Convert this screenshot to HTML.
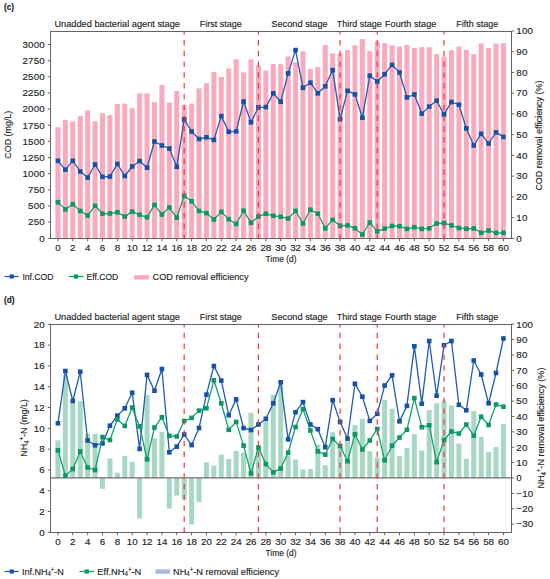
<!DOCTYPE html>
<html><head><meta charset="utf-8"><style>
html,body{margin:0;padding:0;background:#fff;}
body{width:550px;height:579px;overflow:hidden;}
svg{display:block;}
text{stroke:#1e1e1e;stroke-width:0.15px;}
</style></head><body>
<svg width="550" height="579" viewBox="0 0 550 579">
<rect width="550" height="579" fill="#ffffff"/>
<g font-family='"Liberation Sans", sans-serif' fill="#1e1e1e">
<text x="3.9" y="10.1" font-size="8.3" font-weight="bold">(c)</text>
<text x="54.40" y="27.20" text-anchor="start" font-size="9.8" textLength="125.6" lengthAdjust="spacingAndGlyphs">Unadded bacterial agent stage</text>
<text x="199.70" y="27.20" text-anchor="start" font-size="9.8" textLength="42" lengthAdjust="spacingAndGlyphs">First stage</text>
<text x="271.30" y="27.20" text-anchor="start" font-size="9.8" textLength="56.4" lengthAdjust="spacingAndGlyphs">Second stage</text>
<text x="336.70" y="27.20" text-anchor="start" font-size="9.8" textLength="45" lengthAdjust="spacingAndGlyphs">Third stage</text>
<text x="385.00" y="27.20" text-anchor="start" font-size="9.8" textLength="51.3" lengthAdjust="spacingAndGlyphs">Fourth stage</text>
<text x="456.20" y="27.20" text-anchor="start" font-size="9.8" textLength="42" lengthAdjust="spacingAndGlyphs">Fifth stage</text>
<rect x="55.45" y="127.30" width="5.0" height="111.20" fill="#fba9be"/>
<rect x="62.88" y="120.00" width="5.0" height="118.50" fill="#fba9be"/>
<rect x="70.30" y="121.50" width="5.0" height="117.00" fill="#fba9be"/>
<rect x="77.72" y="115.90" width="5.0" height="122.60" fill="#fba9be"/>
<rect x="85.15" y="110.50" width="5.0" height="128.00" fill="#fba9be"/>
<rect x="92.58" y="121.30" width="5.0" height="117.20" fill="#fba9be"/>
<rect x="100.00" y="113.20" width="5.0" height="125.30" fill="#fba9be"/>
<rect x="107.43" y="115.20" width="5.0" height="123.30" fill="#fba9be"/>
<rect x="114.85" y="104.00" width="5.0" height="134.50" fill="#fba9be"/>
<rect x="122.28" y="103.60" width="5.0" height="134.90" fill="#fba9be"/>
<rect x="129.70" y="108.30" width="5.0" height="130.20" fill="#fba9be"/>
<rect x="137.12" y="93.20" width="5.0" height="145.30" fill="#fba9be"/>
<rect x="144.55" y="93.20" width="5.0" height="145.30" fill="#fba9be"/>
<rect x="151.97" y="102.20" width="5.0" height="136.30" fill="#fba9be"/>
<rect x="159.40" y="85.00" width="5.0" height="153.50" fill="#fba9be"/>
<rect x="166.82" y="102.60" width="5.0" height="135.90" fill="#fba9be"/>
<rect x="174.25" y="91.10" width="5.0" height="147.40" fill="#fba9be"/>
<rect x="181.68" y="105.10" width="5.0" height="133.40" fill="#fba9be"/>
<rect x="189.10" y="103.60" width="5.0" height="134.90" fill="#fba9be"/>
<rect x="196.52" y="88.40" width="5.0" height="150.10" fill="#fba9be"/>
<rect x="203.95" y="83.10" width="5.0" height="155.40" fill="#fba9be"/>
<rect x="211.38" y="72.10" width="5.0" height="166.40" fill="#fba9be"/>
<rect x="218.80" y="76.90" width="5.0" height="161.60" fill="#fba9be"/>
<rect x="226.23" y="68.50" width="5.0" height="170.00" fill="#fba9be"/>
<rect x="233.65" y="59.30" width="5.0" height="179.20" fill="#fba9be"/>
<rect x="241.07" y="72.40" width="5.0" height="166.10" fill="#fba9be"/>
<rect x="248.50" y="59.30" width="5.0" height="179.20" fill="#fba9be"/>
<rect x="255.93" y="65.60" width="5.0" height="172.90" fill="#fba9be"/>
<rect x="263.35" y="70.50" width="5.0" height="168.00" fill="#fba9be"/>
<rect x="270.77" y="63.90" width="5.0" height="174.60" fill="#fba9be"/>
<rect x="278.20" y="64.20" width="5.0" height="174.30" fill="#fba9be"/>
<rect x="285.62" y="56.60" width="5.0" height="181.90" fill="#fba9be"/>
<rect x="293.05" y="62.30" width="5.0" height="176.20" fill="#fba9be"/>
<rect x="300.48" y="51.40" width="5.0" height="187.10" fill="#fba9be"/>
<rect x="307.90" y="69.00" width="5.0" height="169.50" fill="#fba9be"/>
<rect x="315.32" y="67.10" width="5.0" height="171.40" fill="#fba9be"/>
<rect x="322.75" y="45.00" width="5.0" height="193.50" fill="#fba9be"/>
<rect x="330.17" y="53.30" width="5.0" height="185.20" fill="#fba9be"/>
<rect x="337.60" y="53.30" width="5.0" height="185.20" fill="#fba9be"/>
<rect x="345.02" y="49.90" width="5.0" height="188.60" fill="#fba9be"/>
<rect x="352.45" y="45.30" width="5.0" height="193.20" fill="#fba9be"/>
<rect x="359.88" y="39.00" width="5.0" height="199.50" fill="#fba9be"/>
<rect x="367.30" y="51.20" width="5.0" height="187.30" fill="#fba9be"/>
<rect x="374.72" y="41.60" width="5.0" height="196.90" fill="#fba9be"/>
<rect x="382.15" y="43.10" width="5.0" height="195.40" fill="#fba9be"/>
<rect x="389.57" y="45.30" width="5.0" height="193.20" fill="#fba9be"/>
<rect x="397.00" y="46.70" width="5.0" height="191.80" fill="#fba9be"/>
<rect x="404.42" y="45.00" width="5.0" height="193.50" fill="#fba9be"/>
<rect x="411.85" y="47.90" width="5.0" height="190.60" fill="#fba9be"/>
<rect x="419.27" y="47.20" width="5.0" height="191.30" fill="#fba9be"/>
<rect x="426.70" y="47.20" width="5.0" height="191.30" fill="#fba9be"/>
<rect x="434.12" y="54.00" width="5.0" height="184.50" fill="#fba9be"/>
<rect x="441.55" y="56.60" width="5.0" height="181.90" fill="#fba9be"/>
<rect x="448.97" y="50.20" width="5.0" height="188.30" fill="#fba9be"/>
<rect x="456.40" y="46.60" width="5.0" height="191.90" fill="#fba9be"/>
<rect x="463.82" y="49.80" width="5.0" height="188.70" fill="#fba9be"/>
<rect x="471.25" y="54.00" width="5.0" height="184.50" fill="#fba9be"/>
<rect x="478.67" y="43.50" width="5.0" height="195.00" fill="#fba9be"/>
<rect x="486.10" y="48.00" width="5.0" height="190.50" fill="#fba9be"/>
<rect x="493.52" y="43.60" width="5.0" height="194.90" fill="#fba9be"/>
<rect x="500.95" y="43.10" width="5.0" height="195.40" fill="#fba9be"/>
<polyline points="57.95,160.80 65.38,169.70 72.80,160.80 80.22,171.50 87.65,177.60 95.08,164.50 102.50,176.80 109.93,176.50 117.35,163.90 124.78,176.00 132.20,166.50 139.62,161.00 147.05,167.70 154.47,141.50 161.90,145.50 169.32,148.50 176.75,166.80 184.18,119.40 191.60,131.50 199.02,139.00 206.45,137.30 213.88,139.90 221.30,116.10 228.73,131.80 236.15,131.40 243.57,101.50 251.00,122.30 258.43,107.30 265.85,107.10 273.27,93.30 280.70,101.80 288.12,73.40 295.55,50.10 302.98,87.80 310.40,82.70 317.82,93.30 325.25,86.30 332.67,70.10 340.10,119.20 347.52,90.80 354.95,94.40 362.38,117.70 369.80,75.70 377.22,81.50 384.65,74.20 392.07,64.90 399.50,72.50 406.92,97.40 414.35,94.50 421.77,113.60 429.20,106.60 436.62,100.70 444.05,114.40 451.47,102.00 458.90,104.70 466.32,128.40 473.75,145.50 481.17,133.80 488.60,143.50 496.02,132.40 503.45,136.90" fill="none" stroke="#1f5cb4" stroke-width="1.3" stroke-linejoin="round"/>
<rect x="55.65" y="158.50" width="4.6" height="4.6" fill="#1650a8"/>
<rect x="63.08" y="167.40" width="4.6" height="4.6" fill="#1650a8"/>
<rect x="70.50" y="158.50" width="4.6" height="4.6" fill="#1650a8"/>
<rect x="77.92" y="169.20" width="4.6" height="4.6" fill="#1650a8"/>
<rect x="85.35" y="175.30" width="4.6" height="4.6" fill="#1650a8"/>
<rect x="92.78" y="162.20" width="4.6" height="4.6" fill="#1650a8"/>
<rect x="100.20" y="174.50" width="4.6" height="4.6" fill="#1650a8"/>
<rect x="107.63" y="174.20" width="4.6" height="4.6" fill="#1650a8"/>
<rect x="115.05" y="161.60" width="4.6" height="4.6" fill="#1650a8"/>
<rect x="122.48" y="173.70" width="4.6" height="4.6" fill="#1650a8"/>
<rect x="129.90" y="164.20" width="4.6" height="4.6" fill="#1650a8"/>
<rect x="137.32" y="158.70" width="4.6" height="4.6" fill="#1650a8"/>
<rect x="144.75" y="165.40" width="4.6" height="4.6" fill="#1650a8"/>
<rect x="152.17" y="139.20" width="4.6" height="4.6" fill="#1650a8"/>
<rect x="159.60" y="143.20" width="4.6" height="4.6" fill="#1650a8"/>
<rect x="167.02" y="146.20" width="4.6" height="4.6" fill="#1650a8"/>
<rect x="174.45" y="164.50" width="4.6" height="4.6" fill="#1650a8"/>
<rect x="181.88" y="117.10" width="4.6" height="4.6" fill="#1650a8"/>
<rect x="189.30" y="129.20" width="4.6" height="4.6" fill="#1650a8"/>
<rect x="196.72" y="136.70" width="4.6" height="4.6" fill="#1650a8"/>
<rect x="204.15" y="135.00" width="4.6" height="4.6" fill="#1650a8"/>
<rect x="211.57" y="137.60" width="4.6" height="4.6" fill="#1650a8"/>
<rect x="219.00" y="113.80" width="4.6" height="4.6" fill="#1650a8"/>
<rect x="226.43" y="129.50" width="4.6" height="4.6" fill="#1650a8"/>
<rect x="233.85" y="129.10" width="4.6" height="4.6" fill="#1650a8"/>
<rect x="241.27" y="99.20" width="4.6" height="4.6" fill="#1650a8"/>
<rect x="248.70" y="120.00" width="4.6" height="4.6" fill="#1650a8"/>
<rect x="256.12" y="105.00" width="4.6" height="4.6" fill="#1650a8"/>
<rect x="263.55" y="104.80" width="4.6" height="4.6" fill="#1650a8"/>
<rect x="270.97" y="91.00" width="4.6" height="4.6" fill="#1650a8"/>
<rect x="278.40" y="99.50" width="4.6" height="4.6" fill="#1650a8"/>
<rect x="285.82" y="71.10" width="4.6" height="4.6" fill="#1650a8"/>
<rect x="293.25" y="47.80" width="4.6" height="4.6" fill="#1650a8"/>
<rect x="300.68" y="85.50" width="4.6" height="4.6" fill="#1650a8"/>
<rect x="308.10" y="80.40" width="4.6" height="4.6" fill="#1650a8"/>
<rect x="315.52" y="91.00" width="4.6" height="4.6" fill="#1650a8"/>
<rect x="322.95" y="84.00" width="4.6" height="4.6" fill="#1650a8"/>
<rect x="330.37" y="67.80" width="4.6" height="4.6" fill="#1650a8"/>
<rect x="337.80" y="116.90" width="4.6" height="4.6" fill="#1650a8"/>
<rect x="345.22" y="88.50" width="4.6" height="4.6" fill="#1650a8"/>
<rect x="352.65" y="92.10" width="4.6" height="4.6" fill="#1650a8"/>
<rect x="360.07" y="115.40" width="4.6" height="4.6" fill="#1650a8"/>
<rect x="367.50" y="73.40" width="4.6" height="4.6" fill="#1650a8"/>
<rect x="374.92" y="79.20" width="4.6" height="4.6" fill="#1650a8"/>
<rect x="382.35" y="71.90" width="4.6" height="4.6" fill="#1650a8"/>
<rect x="389.77" y="62.60" width="4.6" height="4.6" fill="#1650a8"/>
<rect x="397.20" y="70.20" width="4.6" height="4.6" fill="#1650a8"/>
<rect x="404.62" y="95.10" width="4.6" height="4.6" fill="#1650a8"/>
<rect x="412.05" y="92.20" width="4.6" height="4.6" fill="#1650a8"/>
<rect x="419.47" y="111.30" width="4.6" height="4.6" fill="#1650a8"/>
<rect x="426.90" y="104.30" width="4.6" height="4.6" fill="#1650a8"/>
<rect x="434.32" y="98.40" width="4.6" height="4.6" fill="#1650a8"/>
<rect x="441.75" y="112.10" width="4.6" height="4.6" fill="#1650a8"/>
<rect x="449.17" y="99.70" width="4.6" height="4.6" fill="#1650a8"/>
<rect x="456.60" y="102.40" width="4.6" height="4.6" fill="#1650a8"/>
<rect x="464.02" y="126.10" width="4.6" height="4.6" fill="#1650a8"/>
<rect x="471.45" y="143.20" width="4.6" height="4.6" fill="#1650a8"/>
<rect x="478.87" y="131.50" width="4.6" height="4.6" fill="#1650a8"/>
<rect x="486.30" y="141.20" width="4.6" height="4.6" fill="#1650a8"/>
<rect x="493.72" y="130.10" width="4.6" height="4.6" fill="#1650a8"/>
<rect x="501.15" y="134.60" width="4.6" height="4.6" fill="#1650a8"/>
<polyline points="57.95,202.20 65.38,209.40 72.80,204.20 80.22,210.90 87.65,215.50 95.08,205.80 102.50,213.80 109.93,213.40 117.35,212.30 124.78,216.60 132.20,211.60 139.62,214.80 147.05,217.30 154.47,204.90 161.90,214.50 169.32,207.50 176.75,217.70 184.18,195.90 191.60,201.30 199.02,211.00 206.45,213.10 213.88,219.50 221.30,211.90 228.73,219.20 236.15,224.00 243.57,210.70 251.00,222.80 258.43,216.60 265.85,213.70 273.27,215.80 280.70,216.70 288.12,218.50 295.55,210.90 302.98,223.50 310.40,209.70 317.82,213.70 325.25,228.30 332.67,219.90 340.10,225.70 347.52,225.40 354.95,228.20 362.38,234.50 369.80,222.50 377.22,231.30 384.65,228.60 392.07,226.00 399.50,226.20 406.92,228.90 414.35,227.20 421.77,228.90 429.20,228.30 436.62,223.50 444.05,223.10 451.47,225.40 458.90,228.00 466.32,228.80 473.75,228.40 481.17,232.80 488.60,230.60 496.02,232.80 503.45,232.80" fill="none" stroke="#10a26d" stroke-width="1.3" stroke-linejoin="round"/>
<rect x="55.65" y="199.90" width="4.6" height="4.6" fill="#0b9864"/>
<rect x="63.08" y="207.10" width="4.6" height="4.6" fill="#0b9864"/>
<rect x="70.50" y="201.90" width="4.6" height="4.6" fill="#0b9864"/>
<rect x="77.92" y="208.60" width="4.6" height="4.6" fill="#0b9864"/>
<rect x="85.35" y="213.20" width="4.6" height="4.6" fill="#0b9864"/>
<rect x="92.78" y="203.50" width="4.6" height="4.6" fill="#0b9864"/>
<rect x="100.20" y="211.50" width="4.6" height="4.6" fill="#0b9864"/>
<rect x="107.63" y="211.10" width="4.6" height="4.6" fill="#0b9864"/>
<rect x="115.05" y="210.00" width="4.6" height="4.6" fill="#0b9864"/>
<rect x="122.48" y="214.30" width="4.6" height="4.6" fill="#0b9864"/>
<rect x="129.90" y="209.30" width="4.6" height="4.6" fill="#0b9864"/>
<rect x="137.32" y="212.50" width="4.6" height="4.6" fill="#0b9864"/>
<rect x="144.75" y="215.00" width="4.6" height="4.6" fill="#0b9864"/>
<rect x="152.17" y="202.60" width="4.6" height="4.6" fill="#0b9864"/>
<rect x="159.60" y="212.20" width="4.6" height="4.6" fill="#0b9864"/>
<rect x="167.02" y="205.20" width="4.6" height="4.6" fill="#0b9864"/>
<rect x="174.45" y="215.40" width="4.6" height="4.6" fill="#0b9864"/>
<rect x="181.88" y="193.60" width="4.6" height="4.6" fill="#0b9864"/>
<rect x="189.30" y="199.00" width="4.6" height="4.6" fill="#0b9864"/>
<rect x="196.72" y="208.70" width="4.6" height="4.6" fill="#0b9864"/>
<rect x="204.15" y="210.80" width="4.6" height="4.6" fill="#0b9864"/>
<rect x="211.57" y="217.20" width="4.6" height="4.6" fill="#0b9864"/>
<rect x="219.00" y="209.60" width="4.6" height="4.6" fill="#0b9864"/>
<rect x="226.43" y="216.90" width="4.6" height="4.6" fill="#0b9864"/>
<rect x="233.85" y="221.70" width="4.6" height="4.6" fill="#0b9864"/>
<rect x="241.27" y="208.40" width="4.6" height="4.6" fill="#0b9864"/>
<rect x="248.70" y="220.50" width="4.6" height="4.6" fill="#0b9864"/>
<rect x="256.12" y="214.30" width="4.6" height="4.6" fill="#0b9864"/>
<rect x="263.55" y="211.40" width="4.6" height="4.6" fill="#0b9864"/>
<rect x="270.97" y="213.50" width="4.6" height="4.6" fill="#0b9864"/>
<rect x="278.40" y="214.40" width="4.6" height="4.6" fill="#0b9864"/>
<rect x="285.82" y="216.20" width="4.6" height="4.6" fill="#0b9864"/>
<rect x="293.25" y="208.60" width="4.6" height="4.6" fill="#0b9864"/>
<rect x="300.68" y="221.20" width="4.6" height="4.6" fill="#0b9864"/>
<rect x="308.10" y="207.40" width="4.6" height="4.6" fill="#0b9864"/>
<rect x="315.52" y="211.40" width="4.6" height="4.6" fill="#0b9864"/>
<rect x="322.95" y="226.00" width="4.6" height="4.6" fill="#0b9864"/>
<rect x="330.37" y="217.60" width="4.6" height="4.6" fill="#0b9864"/>
<rect x="337.80" y="223.40" width="4.6" height="4.6" fill="#0b9864"/>
<rect x="345.22" y="223.10" width="4.6" height="4.6" fill="#0b9864"/>
<rect x="352.65" y="225.90" width="4.6" height="4.6" fill="#0b9864"/>
<rect x="360.07" y="232.20" width="4.6" height="4.6" fill="#0b9864"/>
<rect x="367.50" y="220.20" width="4.6" height="4.6" fill="#0b9864"/>
<rect x="374.92" y="229.00" width="4.6" height="4.6" fill="#0b9864"/>
<rect x="382.35" y="226.30" width="4.6" height="4.6" fill="#0b9864"/>
<rect x="389.77" y="223.70" width="4.6" height="4.6" fill="#0b9864"/>
<rect x="397.20" y="223.90" width="4.6" height="4.6" fill="#0b9864"/>
<rect x="404.62" y="226.60" width="4.6" height="4.6" fill="#0b9864"/>
<rect x="412.05" y="224.90" width="4.6" height="4.6" fill="#0b9864"/>
<rect x="419.47" y="226.60" width="4.6" height="4.6" fill="#0b9864"/>
<rect x="426.90" y="226.00" width="4.6" height="4.6" fill="#0b9864"/>
<rect x="434.32" y="221.20" width="4.6" height="4.6" fill="#0b9864"/>
<rect x="441.75" y="220.80" width="4.6" height="4.6" fill="#0b9864"/>
<rect x="449.17" y="223.10" width="4.6" height="4.6" fill="#0b9864"/>
<rect x="456.60" y="225.70" width="4.6" height="4.6" fill="#0b9864"/>
<rect x="464.02" y="226.50" width="4.6" height="4.6" fill="#0b9864"/>
<rect x="471.45" y="226.10" width="4.6" height="4.6" fill="#0b9864"/>
<rect x="478.87" y="230.50" width="4.6" height="4.6" fill="#0b9864"/>
<rect x="486.30" y="228.30" width="4.6" height="4.6" fill="#0b9864"/>
<rect x="493.72" y="230.50" width="4.6" height="4.6" fill="#0b9864"/>
<rect x="501.15" y="230.50" width="4.6" height="4.6" fill="#0b9864"/>
<line x1="184.18" y1="238.5" x2="184.18" y2="31.5" stroke="#f2383c" stroke-width="1.2" stroke-dasharray="5.5 5.3" stroke-dashoffset="1.3"/>
<line x1="258.43" y1="238.5" x2="258.43" y2="31.5" stroke="#f2383c" stroke-width="1.2" stroke-dasharray="5.5 5.3" stroke-dashoffset="1.3"/>
<line x1="340.10" y1="238.5" x2="340.10" y2="31.5" stroke="#f2383c" stroke-width="1.2" stroke-dasharray="5.5 5.3" stroke-dashoffset="1.3"/>
<line x1="377.22" y1="238.5" x2="377.22" y2="31.5" stroke="#f2383c" stroke-width="1.2" stroke-dasharray="5.5 5.3" stroke-dashoffset="1.3"/>
<line x1="444.05" y1="238.5" x2="444.05" y2="31.5" stroke="#f2383c" stroke-width="1.2" stroke-dasharray="5.5 5.3" stroke-dashoffset="1.3"/>
<rect x="50.5" y="31.5" width="461" height="207.0" fill="none" stroke="#676161" stroke-width="1"/>
<line x1="47.8" y1="238.30" x2="50.5" y2="238.30" stroke="#676161" stroke-width="1"/>
<text x="45.00" y="241.60" text-anchor="end" font-size="9.8" letter-spacing="0.2">0</text>
<line x1="47.8" y1="222.15" x2="50.5" y2="222.15" stroke="#676161" stroke-width="1"/>
<text x="45.00" y="225.45" text-anchor="end" font-size="9.8" letter-spacing="0.2">250</text>
<line x1="47.8" y1="206.00" x2="50.5" y2="206.00" stroke="#676161" stroke-width="1"/>
<text x="45.00" y="209.30" text-anchor="end" font-size="9.8" letter-spacing="0.2">500</text>
<line x1="47.8" y1="189.85" x2="50.5" y2="189.85" stroke="#676161" stroke-width="1"/>
<text x="45.00" y="193.15" text-anchor="end" font-size="9.8" letter-spacing="0.2">750</text>
<line x1="47.8" y1="173.70" x2="50.5" y2="173.70" stroke="#676161" stroke-width="1"/>
<text x="45.00" y="177.00" text-anchor="end" font-size="9.8" letter-spacing="0.2">1000</text>
<line x1="47.8" y1="157.55" x2="50.5" y2="157.55" stroke="#676161" stroke-width="1"/>
<text x="45.00" y="160.85" text-anchor="end" font-size="9.8" letter-spacing="0.2">1250</text>
<line x1="47.8" y1="141.40" x2="50.5" y2="141.40" stroke="#676161" stroke-width="1"/>
<text x="45.00" y="144.70" text-anchor="end" font-size="9.8" letter-spacing="0.2">1500</text>
<line x1="47.8" y1="125.25" x2="50.5" y2="125.25" stroke="#676161" stroke-width="1"/>
<text x="45.00" y="128.55" text-anchor="end" font-size="9.8" letter-spacing="0.2">1750</text>
<line x1="47.8" y1="109.10" x2="50.5" y2="109.10" stroke="#676161" stroke-width="1"/>
<text x="45.00" y="112.40" text-anchor="end" font-size="9.8" letter-spacing="0.2">2000</text>
<line x1="47.8" y1="92.95" x2="50.5" y2="92.95" stroke="#676161" stroke-width="1"/>
<text x="45.00" y="96.25" text-anchor="end" font-size="9.8" letter-spacing="0.2">2250</text>
<line x1="47.8" y1="76.80" x2="50.5" y2="76.80" stroke="#676161" stroke-width="1"/>
<text x="45.00" y="80.10" text-anchor="end" font-size="9.8" letter-spacing="0.2">2500</text>
<line x1="47.8" y1="60.65" x2="50.5" y2="60.65" stroke="#676161" stroke-width="1"/>
<text x="45.00" y="63.95" text-anchor="end" font-size="9.8" letter-spacing="0.2">2750</text>
<line x1="47.8" y1="44.50" x2="50.5" y2="44.50" stroke="#676161" stroke-width="1"/>
<text x="45.00" y="47.80" text-anchor="end" font-size="9.8" letter-spacing="0.2">3000</text>
<line x1="511.5" y1="238.30" x2="514.2" y2="238.30" stroke="#676161" stroke-width="1"/>
<text x="516.30" y="241.60" text-anchor="start" font-size="9.8" letter-spacing="0.2">0</text>
<line x1="511.5" y1="217.57" x2="514.2" y2="217.57" stroke="#676161" stroke-width="1"/>
<text x="516.30" y="220.87" text-anchor="start" font-size="9.8" letter-spacing="0.2">10</text>
<line x1="511.5" y1="196.84" x2="514.2" y2="196.84" stroke="#676161" stroke-width="1"/>
<text x="516.30" y="200.14" text-anchor="start" font-size="9.8" letter-spacing="0.2">20</text>
<line x1="511.5" y1="176.11" x2="514.2" y2="176.11" stroke="#676161" stroke-width="1"/>
<text x="516.30" y="179.41" text-anchor="start" font-size="9.8" letter-spacing="0.2">30</text>
<line x1="511.5" y1="155.38" x2="514.2" y2="155.38" stroke="#676161" stroke-width="1"/>
<text x="516.30" y="158.68" text-anchor="start" font-size="9.8" letter-spacing="0.2">40</text>
<line x1="511.5" y1="134.65" x2="514.2" y2="134.65" stroke="#676161" stroke-width="1"/>
<text x="516.30" y="137.95" text-anchor="start" font-size="9.8" letter-spacing="0.2">50</text>
<line x1="511.5" y1="113.92" x2="514.2" y2="113.92" stroke="#676161" stroke-width="1"/>
<text x="516.30" y="117.22" text-anchor="start" font-size="9.8" letter-spacing="0.2">60</text>
<line x1="511.5" y1="93.19" x2="514.2" y2="93.19" stroke="#676161" stroke-width="1"/>
<text x="516.30" y="96.49" text-anchor="start" font-size="9.8" letter-spacing="0.2">70</text>
<line x1="511.5" y1="72.46" x2="514.2" y2="72.46" stroke="#676161" stroke-width="1"/>
<text x="516.30" y="75.76" text-anchor="start" font-size="9.8" letter-spacing="0.2">80</text>
<line x1="511.5" y1="51.73" x2="514.2" y2="51.73" stroke="#676161" stroke-width="1"/>
<text x="516.30" y="55.03" text-anchor="start" font-size="9.8" letter-spacing="0.2">90</text>
<line x1="511.5" y1="31.00" x2="514.2" y2="31.00" stroke="#676161" stroke-width="1"/>
<text x="516.30" y="34.30" text-anchor="start" font-size="9.8" letter-spacing="0.2">100</text>
<line x1="57.95" y1="238.5" x2="57.95" y2="241.3" stroke="#676161" stroke-width="1"/>
<text x="57.95" y="251.20" text-anchor="middle" font-size="9.8" letter-spacing="-0.1">0</text>
<line x1="72.80" y1="238.5" x2="72.80" y2="241.3" stroke="#676161" stroke-width="1"/>
<text x="72.80" y="251.20" text-anchor="middle" font-size="9.8" letter-spacing="-0.1">2</text>
<line x1="87.65" y1="238.5" x2="87.65" y2="241.3" stroke="#676161" stroke-width="1"/>
<text x="87.65" y="251.20" text-anchor="middle" font-size="9.8" letter-spacing="-0.1">4</text>
<line x1="102.50" y1="238.5" x2="102.50" y2="241.3" stroke="#676161" stroke-width="1"/>
<text x="102.50" y="251.20" text-anchor="middle" font-size="9.8" letter-spacing="-0.1">6</text>
<line x1="117.35" y1="238.5" x2="117.35" y2="241.3" stroke="#676161" stroke-width="1"/>
<text x="117.35" y="251.20" text-anchor="middle" font-size="9.8" letter-spacing="-0.1">8</text>
<line x1="132.20" y1="238.5" x2="132.20" y2="241.3" stroke="#676161" stroke-width="1"/>
<text x="132.20" y="251.20" text-anchor="middle" font-size="9.8" letter-spacing="-0.1">10</text>
<line x1="147.05" y1="238.5" x2="147.05" y2="241.3" stroke="#676161" stroke-width="1"/>
<text x="147.05" y="251.20" text-anchor="middle" font-size="9.8" letter-spacing="-0.1">12</text>
<line x1="161.90" y1="238.5" x2="161.90" y2="241.3" stroke="#676161" stroke-width="1"/>
<text x="161.90" y="251.20" text-anchor="middle" font-size="9.8" letter-spacing="-0.1">14</text>
<line x1="176.75" y1="238.5" x2="176.75" y2="241.3" stroke="#676161" stroke-width="1"/>
<text x="176.75" y="251.20" text-anchor="middle" font-size="9.8" letter-spacing="-0.1">16</text>
<line x1="191.60" y1="238.5" x2="191.60" y2="241.3" stroke="#676161" stroke-width="1"/>
<text x="191.60" y="251.20" text-anchor="middle" font-size="9.8" letter-spacing="-0.1">18</text>
<line x1="206.45" y1="238.5" x2="206.45" y2="241.3" stroke="#676161" stroke-width="1"/>
<text x="206.45" y="251.20" text-anchor="middle" font-size="9.8" letter-spacing="-0.1">20</text>
<line x1="221.30" y1="238.5" x2="221.30" y2="241.3" stroke="#676161" stroke-width="1"/>
<text x="221.30" y="251.20" text-anchor="middle" font-size="9.8" letter-spacing="-0.1">22</text>
<line x1="236.15" y1="238.5" x2="236.15" y2="241.3" stroke="#676161" stroke-width="1"/>
<text x="236.15" y="251.20" text-anchor="middle" font-size="9.8" letter-spacing="-0.1">24</text>
<line x1="251.00" y1="238.5" x2="251.00" y2="241.3" stroke="#676161" stroke-width="1"/>
<text x="251.00" y="251.20" text-anchor="middle" font-size="9.8" letter-spacing="-0.1">26</text>
<line x1="265.85" y1="238.5" x2="265.85" y2="241.3" stroke="#676161" stroke-width="1"/>
<text x="265.85" y="251.20" text-anchor="middle" font-size="9.8" letter-spacing="-0.1">28</text>
<line x1="280.70" y1="238.5" x2="280.70" y2="241.3" stroke="#676161" stroke-width="1"/>
<text x="280.70" y="251.20" text-anchor="middle" font-size="9.8" letter-spacing="-0.1">30</text>
<line x1="295.55" y1="238.5" x2="295.55" y2="241.3" stroke="#676161" stroke-width="1"/>
<text x="295.55" y="251.20" text-anchor="middle" font-size="9.8" letter-spacing="-0.1">32</text>
<line x1="310.40" y1="238.5" x2="310.40" y2="241.3" stroke="#676161" stroke-width="1"/>
<text x="310.40" y="251.20" text-anchor="middle" font-size="9.8" letter-spacing="-0.1">34</text>
<line x1="325.25" y1="238.5" x2="325.25" y2="241.3" stroke="#676161" stroke-width="1"/>
<text x="325.25" y="251.20" text-anchor="middle" font-size="9.8" letter-spacing="-0.1">36</text>
<line x1="340.10" y1="238.5" x2="340.10" y2="241.3" stroke="#676161" stroke-width="1"/>
<text x="340.10" y="251.20" text-anchor="middle" font-size="9.8" letter-spacing="-0.1">38</text>
<line x1="354.95" y1="238.5" x2="354.95" y2="241.3" stroke="#676161" stroke-width="1"/>
<text x="354.95" y="251.20" text-anchor="middle" font-size="9.8" letter-spacing="-0.1">40</text>
<line x1="369.80" y1="238.5" x2="369.80" y2="241.3" stroke="#676161" stroke-width="1"/>
<text x="369.80" y="251.20" text-anchor="middle" font-size="9.8" letter-spacing="-0.1">42</text>
<line x1="384.65" y1="238.5" x2="384.65" y2="241.3" stroke="#676161" stroke-width="1"/>
<text x="384.65" y="251.20" text-anchor="middle" font-size="9.8" letter-spacing="-0.1">44</text>
<line x1="399.50" y1="238.5" x2="399.50" y2="241.3" stroke="#676161" stroke-width="1"/>
<text x="399.50" y="251.20" text-anchor="middle" font-size="9.8" letter-spacing="-0.1">46</text>
<line x1="414.35" y1="238.5" x2="414.35" y2="241.3" stroke="#676161" stroke-width="1"/>
<text x="414.35" y="251.20" text-anchor="middle" font-size="9.8" letter-spacing="-0.1">48</text>
<line x1="429.20" y1="238.5" x2="429.20" y2="241.3" stroke="#676161" stroke-width="1"/>
<text x="429.20" y="251.20" text-anchor="middle" font-size="9.8" letter-spacing="-0.1">50</text>
<line x1="444.05" y1="238.5" x2="444.05" y2="241.3" stroke="#676161" stroke-width="1"/>
<text x="444.05" y="251.20" text-anchor="middle" font-size="9.8" letter-spacing="-0.1">52</text>
<line x1="458.90" y1="238.5" x2="458.90" y2="241.3" stroke="#676161" stroke-width="1"/>
<text x="458.90" y="251.20" text-anchor="middle" font-size="9.8" letter-spacing="-0.1">54</text>
<line x1="473.75" y1="238.5" x2="473.75" y2="241.3" stroke="#676161" stroke-width="1"/>
<text x="473.75" y="251.20" text-anchor="middle" font-size="9.8" letter-spacing="-0.1">56</text>
<line x1="488.60" y1="238.5" x2="488.60" y2="241.3" stroke="#676161" stroke-width="1"/>
<text x="488.60" y="251.20" text-anchor="middle" font-size="9.8" letter-spacing="-0.1">58</text>
<line x1="503.45" y1="238.5" x2="503.45" y2="241.3" stroke="#676161" stroke-width="1"/>
<text x="503.45" y="251.20" text-anchor="middle" font-size="9.8" letter-spacing="-0.1">60</text>
<text x="281.00" y="262.30" text-anchor="middle" font-size="9.8" textLength="31" lengthAdjust="spacingAndGlyphs">Time (d)</text>
<text transform="translate(10.8,134.7) rotate(-90)" text-anchor="middle" font-size="9.8" textLength="47.9" lengthAdjust="spacingAndGlyphs">COD (mg/L)</text>
<text transform="translate(542.4,135.6) rotate(-90)" text-anchor="middle" font-size="9.8" textLength="110" lengthAdjust="spacingAndGlyphs">COD removal efficiency (%)</text>
<line x1="4.6" y1="276.5" x2="18.6" y2="276.5" stroke="#1f5cb4" stroke-width="1.3"/>
<rect x="9.6" y="274.4" width="4.2" height="4.2" fill="#1650a8"/>
<text x="22.40" y="279.80" text-anchor="start" font-size="9.8" textLength="31.1" lengthAdjust="spacingAndGlyphs">Inf.COD</text>
<line x1="68.7" y1="276.5" x2="83.5" y2="276.5" stroke="#10a26d" stroke-width="1.3"/>
<rect x="73.9" y="274.4" width="4.2" height="4.2" fill="#0b9864"/>
<text x="86.60" y="279.80" text-anchor="start" font-size="9.8" textLength="31.7" lengthAdjust="spacingAndGlyphs">Eff.COD</text>
<rect x="134" y="275.2" width="14.8" height="4.3" fill="#fba9be"/>
<text x="152.60" y="279.80" text-anchor="start" font-size="9.8" textLength="95.9" lengthAdjust="spacingAndGlyphs">COD removal efficiency</text>
<text x="3.9" y="303.0" font-size="8.3" font-weight="bold">(d)</text>
<text x="54.40" y="320.40" text-anchor="start" font-size="9.8" textLength="125.6" lengthAdjust="spacingAndGlyphs">Unadded bacterial agent stage</text>
<text x="199.70" y="320.40" text-anchor="start" font-size="9.8" textLength="42" lengthAdjust="spacingAndGlyphs">First stage</text>
<text x="271.30" y="320.40" text-anchor="start" font-size="9.8" textLength="56.4" lengthAdjust="spacingAndGlyphs">Second stage</text>
<text x="336.70" y="320.40" text-anchor="start" font-size="9.8" textLength="45" lengthAdjust="spacingAndGlyphs">Third stage</text>
<text x="385.00" y="320.40" text-anchor="start" font-size="9.8" textLength="51.3" lengthAdjust="spacingAndGlyphs">Fourth stage</text>
<text x="456.20" y="320.40" text-anchor="start" font-size="9.8" textLength="42" lengthAdjust="spacingAndGlyphs">Fifth stage</text>
<rect x="55.45" y="440.30" width="5.0" height="37.70" fill="#a7d8c4"/>
<rect x="62.88" y="375.00" width="5.0" height="103.00" fill="#a7d8c4"/>
<rect x="70.30" y="402.50" width="5.0" height="75.50" fill="#a7d8c4"/>
<rect x="77.72" y="401.00" width="5.0" height="77.00" fill="#a7d8c4"/>
<rect x="85.15" y="433.70" width="5.0" height="44.30" fill="#a7d8c4"/>
<rect x="92.58" y="433.70" width="5.0" height="44.30" fill="#a7d8c4"/>
<rect x="100.00" y="478.00" width="5.0" height="10.80" fill="#a7d8c4"/>
<rect x="107.43" y="458.40" width="5.0" height="19.60" fill="#a7d8c4"/>
<rect x="114.85" y="472.80" width="5.0" height="5.20" fill="#a7d8c4"/>
<rect x="122.28" y="456.10" width="5.0" height="21.90" fill="#a7d8c4"/>
<rect x="129.70" y="461.80" width="5.0" height="16.20" fill="#a7d8c4"/>
<rect x="137.12" y="478.00" width="5.0" height="40.40" fill="#a7d8c4"/>
<rect x="144.55" y="395.00" width="5.0" height="83.00" fill="#a7d8c4"/>
<rect x="151.97" y="438.40" width="5.0" height="39.60" fill="#a7d8c4"/>
<rect x="159.40" y="432.00" width="5.0" height="46.00" fill="#a7d8c4"/>
<rect x="166.82" y="478.00" width="5.0" height="30.70" fill="#a7d8c4"/>
<rect x="174.25" y="478.00" width="5.0" height="17.60" fill="#a7d8c4"/>
<rect x="181.68" y="478.00" width="5.0" height="21.40" fill="#a7d8c4"/>
<rect x="189.10" y="478.00" width="5.0" height="46.50" fill="#a7d8c4"/>
<rect x="196.52" y="478.00" width="5.0" height="24.30" fill="#a7d8c4"/>
<rect x="203.95" y="462.40" width="5.0" height="15.60" fill="#a7d8c4"/>
<rect x="211.38" y="465.60" width="5.0" height="12.40" fill="#a7d8c4"/>
<rect x="218.80" y="454.60" width="5.0" height="23.40" fill="#a7d8c4"/>
<rect x="226.23" y="459.00" width="5.0" height="19.00" fill="#a7d8c4"/>
<rect x="233.65" y="451.00" width="5.0" height="27.00" fill="#a7d8c4"/>
<rect x="241.07" y="452.60" width="5.0" height="25.40" fill="#a7d8c4"/>
<rect x="248.50" y="412.70" width="5.0" height="65.30" fill="#a7d8c4"/>
<rect x="255.93" y="448.30" width="5.0" height="29.70" fill="#a7d8c4"/>
<rect x="263.35" y="421.30" width="5.0" height="56.70" fill="#a7d8c4"/>
<rect x="270.77" y="394.70" width="5.0" height="83.30" fill="#a7d8c4"/>
<rect x="278.20" y="385.50" width="5.0" height="92.50" fill="#a7d8c4"/>
<rect x="285.62" y="455.70" width="5.0" height="22.30" fill="#a7d8c4"/>
<rect x="293.05" y="459.50" width="5.0" height="18.50" fill="#a7d8c4"/>
<rect x="300.48" y="469.40" width="5.0" height="8.60" fill="#a7d8c4"/>
<rect x="307.90" y="469.00" width="5.0" height="9.00" fill="#a7d8c4"/>
<rect x="315.32" y="444.70" width="5.0" height="33.30" fill="#a7d8c4"/>
<rect x="322.75" y="465.20" width="5.0" height="12.80" fill="#a7d8c4"/>
<rect x="330.17" y="432.20" width="5.0" height="45.80" fill="#a7d8c4"/>
<rect x="337.60" y="444.00" width="5.0" height="34.00" fill="#a7d8c4"/>
<rect x="345.02" y="440.50" width="5.0" height="37.50" fill="#a7d8c4"/>
<rect x="352.45" y="425.10" width="5.0" height="52.90" fill="#a7d8c4"/>
<rect x="359.88" y="418.80" width="5.0" height="59.20" fill="#a7d8c4"/>
<rect x="367.30" y="451.00" width="5.0" height="27.00" fill="#a7d8c4"/>
<rect x="374.72" y="457.60" width="5.0" height="20.40" fill="#a7d8c4"/>
<rect x="382.15" y="399.80" width="5.0" height="78.20" fill="#a7d8c4"/>
<rect x="389.57" y="408.70" width="5.0" height="69.30" fill="#a7d8c4"/>
<rect x="397.00" y="455.80" width="5.0" height="22.20" fill="#a7d8c4"/>
<rect x="404.42" y="448.10" width="5.0" height="29.90" fill="#a7d8c4"/>
<rect x="411.85" y="434.10" width="5.0" height="43.90" fill="#a7d8c4"/>
<rect x="419.27" y="450.50" width="5.0" height="27.50" fill="#a7d8c4"/>
<rect x="426.70" y="410.10" width="5.0" height="67.90" fill="#a7d8c4"/>
<rect x="434.12" y="403.10" width="5.0" height="74.90" fill="#a7d8c4"/>
<rect x="441.55" y="400.40" width="5.0" height="77.60" fill="#a7d8c4"/>
<rect x="448.97" y="405.50" width="5.0" height="72.50" fill="#a7d8c4"/>
<rect x="456.40" y="443.50" width="5.0" height="34.50" fill="#a7d8c4"/>
<rect x="463.82" y="458.80" width="5.0" height="19.20" fill="#a7d8c4"/>
<rect x="471.25" y="411.00" width="5.0" height="67.00" fill="#a7d8c4"/>
<rect x="478.67" y="437.00" width="5.0" height="41.00" fill="#a7d8c4"/>
<rect x="486.10" y="452.00" width="5.0" height="26.00" fill="#a7d8c4"/>
<rect x="493.52" y="447.10" width="5.0" height="30.90" fill="#a7d8c4"/>
<rect x="500.95" y="423.90" width="5.0" height="54.10" fill="#a7d8c4"/>
<line x1="50.5" y1="477.8" x2="511.5" y2="477.8" stroke="#7a6a6a" stroke-width="1.2"/>
<polyline points="57.95,423.30 65.38,371.00 72.80,401.00 80.22,371.70 87.65,440.50 95.08,445.30 102.50,443.40 109.93,425.70 117.35,415.60 124.78,408.30 132.20,392.70 139.62,448.90 147.05,374.90 154.47,390.70 161.90,369.00 169.32,452.30 176.75,446.60 184.18,434.50 191.60,445.10 199.02,428.00 206.45,394.60 213.88,366.00 221.30,380.60 228.73,415.20 236.15,399.40 243.57,428.10 251.00,430.00 258.43,424.50 265.85,418.80 273.27,403.30 280.70,382.30 288.12,439.40 295.55,412.20 302.98,402.10 310.40,424.50 317.82,429.20 325.25,447.20 332.67,400.20 340.10,421.90 347.52,438.60 354.95,383.80 362.38,396.70 369.80,420.90 377.22,413.80 384.65,385.50 392.07,375.30 399.50,421.30 406.92,405.90 414.35,346.30 421.77,403.70 429.20,341.00 436.62,395.70 444.05,345.20 451.47,341.00 458.90,404.80 466.32,410.30 473.75,360.50 481.17,374.50 488.60,403.30 496.02,373.00 503.45,338.50" fill="none" stroke="#1f5cb4" stroke-width="1.3" stroke-linejoin="round"/>
<rect x="55.65" y="421.00" width="4.6" height="4.6" fill="#1650a8"/>
<rect x="63.08" y="368.70" width="4.6" height="4.6" fill="#1650a8"/>
<rect x="70.50" y="398.70" width="4.6" height="4.6" fill="#1650a8"/>
<rect x="77.92" y="369.40" width="4.6" height="4.6" fill="#1650a8"/>
<rect x="85.35" y="438.20" width="4.6" height="4.6" fill="#1650a8"/>
<rect x="92.78" y="443.00" width="4.6" height="4.6" fill="#1650a8"/>
<rect x="100.20" y="441.10" width="4.6" height="4.6" fill="#1650a8"/>
<rect x="107.63" y="423.40" width="4.6" height="4.6" fill="#1650a8"/>
<rect x="115.05" y="413.30" width="4.6" height="4.6" fill="#1650a8"/>
<rect x="122.48" y="406.00" width="4.6" height="4.6" fill="#1650a8"/>
<rect x="129.90" y="390.40" width="4.6" height="4.6" fill="#1650a8"/>
<rect x="137.32" y="446.60" width="4.6" height="4.6" fill="#1650a8"/>
<rect x="144.75" y="372.60" width="4.6" height="4.6" fill="#1650a8"/>
<rect x="152.17" y="388.40" width="4.6" height="4.6" fill="#1650a8"/>
<rect x="159.60" y="366.70" width="4.6" height="4.6" fill="#1650a8"/>
<rect x="167.02" y="450.00" width="4.6" height="4.6" fill="#1650a8"/>
<rect x="174.45" y="444.30" width="4.6" height="4.6" fill="#1650a8"/>
<rect x="181.88" y="432.20" width="4.6" height="4.6" fill="#1650a8"/>
<rect x="189.30" y="442.80" width="4.6" height="4.6" fill="#1650a8"/>
<rect x="196.72" y="425.70" width="4.6" height="4.6" fill="#1650a8"/>
<rect x="204.15" y="392.30" width="4.6" height="4.6" fill="#1650a8"/>
<rect x="211.57" y="363.70" width="4.6" height="4.6" fill="#1650a8"/>
<rect x="219.00" y="378.30" width="4.6" height="4.6" fill="#1650a8"/>
<rect x="226.43" y="412.90" width="4.6" height="4.6" fill="#1650a8"/>
<rect x="233.85" y="397.10" width="4.6" height="4.6" fill="#1650a8"/>
<rect x="241.27" y="425.80" width="4.6" height="4.6" fill="#1650a8"/>
<rect x="248.70" y="427.70" width="4.6" height="4.6" fill="#1650a8"/>
<rect x="256.12" y="422.20" width="4.6" height="4.6" fill="#1650a8"/>
<rect x="263.55" y="416.50" width="4.6" height="4.6" fill="#1650a8"/>
<rect x="270.97" y="401.00" width="4.6" height="4.6" fill="#1650a8"/>
<rect x="278.40" y="380.00" width="4.6" height="4.6" fill="#1650a8"/>
<rect x="285.82" y="437.10" width="4.6" height="4.6" fill="#1650a8"/>
<rect x="293.25" y="409.90" width="4.6" height="4.6" fill="#1650a8"/>
<rect x="300.68" y="399.80" width="4.6" height="4.6" fill="#1650a8"/>
<rect x="308.10" y="422.20" width="4.6" height="4.6" fill="#1650a8"/>
<rect x="315.52" y="426.90" width="4.6" height="4.6" fill="#1650a8"/>
<rect x="322.95" y="444.90" width="4.6" height="4.6" fill="#1650a8"/>
<rect x="330.37" y="397.90" width="4.6" height="4.6" fill="#1650a8"/>
<rect x="337.80" y="419.60" width="4.6" height="4.6" fill="#1650a8"/>
<rect x="345.22" y="436.30" width="4.6" height="4.6" fill="#1650a8"/>
<rect x="352.65" y="381.50" width="4.6" height="4.6" fill="#1650a8"/>
<rect x="360.07" y="394.40" width="4.6" height="4.6" fill="#1650a8"/>
<rect x="367.50" y="418.60" width="4.6" height="4.6" fill="#1650a8"/>
<rect x="374.92" y="411.50" width="4.6" height="4.6" fill="#1650a8"/>
<rect x="382.35" y="383.20" width="4.6" height="4.6" fill="#1650a8"/>
<rect x="389.77" y="373.00" width="4.6" height="4.6" fill="#1650a8"/>
<rect x="397.20" y="419.00" width="4.6" height="4.6" fill="#1650a8"/>
<rect x="404.62" y="403.60" width="4.6" height="4.6" fill="#1650a8"/>
<rect x="412.05" y="344.00" width="4.6" height="4.6" fill="#1650a8"/>
<rect x="419.47" y="401.40" width="4.6" height="4.6" fill="#1650a8"/>
<rect x="426.90" y="338.70" width="4.6" height="4.6" fill="#1650a8"/>
<rect x="434.32" y="393.40" width="4.6" height="4.6" fill="#1650a8"/>
<rect x="441.75" y="342.90" width="4.6" height="4.6" fill="#1650a8"/>
<rect x="449.17" y="338.70" width="4.6" height="4.6" fill="#1650a8"/>
<rect x="456.60" y="402.50" width="4.6" height="4.6" fill="#1650a8"/>
<rect x="464.02" y="408.00" width="4.6" height="4.6" fill="#1650a8"/>
<rect x="471.45" y="358.20" width="4.6" height="4.6" fill="#1650a8"/>
<rect x="478.87" y="372.20" width="4.6" height="4.6" fill="#1650a8"/>
<rect x="486.30" y="401.00" width="4.6" height="4.6" fill="#1650a8"/>
<rect x="493.72" y="370.70" width="4.6" height="4.6" fill="#1650a8"/>
<rect x="501.15" y="336.20" width="4.6" height="4.6" fill="#1650a8"/>
<polyline points="57.95,450.40 65.38,475.70 72.80,469.00 80.22,451.40 87.65,467.50 95.08,470.00 102.50,437.10 109.93,440.00 117.35,419.40 124.78,425.90 132.20,407.50 139.62,426.40 147.05,459.30 154.47,427.50 161.90,417.30 169.32,435.80 176.75,436.50 184.18,421.00 191.60,417.90 199.02,410.60 206.45,408.30 213.88,380.30 221.30,403.30 228.73,429.80 236.15,421.90 243.57,445.60 251.00,473.50 258.43,447.50 265.85,464.00 273.27,472.40 280.70,468.50 288.12,452.70 295.55,427.00 302.98,409.10 310.40,430.50 317.82,451.40 325.25,454.60 332.67,439.00 340.10,446.00 347.52,461.20 354.95,434.30 362.38,449.50 369.80,440.50 377.22,428.90 384.65,460.30 392.07,445.70 399.50,437.50 406.92,429.80 414.35,398.10 421.77,427.20 429.20,425.30 436.62,462.10 444.05,440.00 451.47,431.50 458.90,433.50 466.32,424.60 473.75,435.70 481.17,416.80 488.60,425.00 496.02,404.50 503.45,406.70" fill="none" stroke="#10a26d" stroke-width="1.3" stroke-linejoin="round"/>
<rect x="55.65" y="448.10" width="4.6" height="4.6" fill="#0b9864"/>
<rect x="63.08" y="473.40" width="4.6" height="4.6" fill="#0b9864"/>
<rect x="70.50" y="466.70" width="4.6" height="4.6" fill="#0b9864"/>
<rect x="77.92" y="449.10" width="4.6" height="4.6" fill="#0b9864"/>
<rect x="85.35" y="465.20" width="4.6" height="4.6" fill="#0b9864"/>
<rect x="92.78" y="467.70" width="4.6" height="4.6" fill="#0b9864"/>
<rect x="100.20" y="434.80" width="4.6" height="4.6" fill="#0b9864"/>
<rect x="107.63" y="437.70" width="4.6" height="4.6" fill="#0b9864"/>
<rect x="115.05" y="417.10" width="4.6" height="4.6" fill="#0b9864"/>
<rect x="122.48" y="423.60" width="4.6" height="4.6" fill="#0b9864"/>
<rect x="129.90" y="405.20" width="4.6" height="4.6" fill="#0b9864"/>
<rect x="137.32" y="424.10" width="4.6" height="4.6" fill="#0b9864"/>
<rect x="144.75" y="457.00" width="4.6" height="4.6" fill="#0b9864"/>
<rect x="152.17" y="425.20" width="4.6" height="4.6" fill="#0b9864"/>
<rect x="159.60" y="415.00" width="4.6" height="4.6" fill="#0b9864"/>
<rect x="167.02" y="433.50" width="4.6" height="4.6" fill="#0b9864"/>
<rect x="174.45" y="434.20" width="4.6" height="4.6" fill="#0b9864"/>
<rect x="181.88" y="418.70" width="4.6" height="4.6" fill="#0b9864"/>
<rect x="189.30" y="415.60" width="4.6" height="4.6" fill="#0b9864"/>
<rect x="196.72" y="408.30" width="4.6" height="4.6" fill="#0b9864"/>
<rect x="204.15" y="406.00" width="4.6" height="4.6" fill="#0b9864"/>
<rect x="211.57" y="378.00" width="4.6" height="4.6" fill="#0b9864"/>
<rect x="219.00" y="401.00" width="4.6" height="4.6" fill="#0b9864"/>
<rect x="226.43" y="427.50" width="4.6" height="4.6" fill="#0b9864"/>
<rect x="233.85" y="419.60" width="4.6" height="4.6" fill="#0b9864"/>
<rect x="241.27" y="443.30" width="4.6" height="4.6" fill="#0b9864"/>
<rect x="248.70" y="471.20" width="4.6" height="4.6" fill="#0b9864"/>
<rect x="256.12" y="445.20" width="4.6" height="4.6" fill="#0b9864"/>
<rect x="263.55" y="461.70" width="4.6" height="4.6" fill="#0b9864"/>
<rect x="270.97" y="470.10" width="4.6" height="4.6" fill="#0b9864"/>
<rect x="278.40" y="466.20" width="4.6" height="4.6" fill="#0b9864"/>
<rect x="285.82" y="450.40" width="4.6" height="4.6" fill="#0b9864"/>
<rect x="293.25" y="424.70" width="4.6" height="4.6" fill="#0b9864"/>
<rect x="300.68" y="406.80" width="4.6" height="4.6" fill="#0b9864"/>
<rect x="308.10" y="428.20" width="4.6" height="4.6" fill="#0b9864"/>
<rect x="315.52" y="449.10" width="4.6" height="4.6" fill="#0b9864"/>
<rect x="322.95" y="452.30" width="4.6" height="4.6" fill="#0b9864"/>
<rect x="330.37" y="436.70" width="4.6" height="4.6" fill="#0b9864"/>
<rect x="337.80" y="443.70" width="4.6" height="4.6" fill="#0b9864"/>
<rect x="345.22" y="458.90" width="4.6" height="4.6" fill="#0b9864"/>
<rect x="352.65" y="432.00" width="4.6" height="4.6" fill="#0b9864"/>
<rect x="360.07" y="447.20" width="4.6" height="4.6" fill="#0b9864"/>
<rect x="367.50" y="438.20" width="4.6" height="4.6" fill="#0b9864"/>
<rect x="374.92" y="426.60" width="4.6" height="4.6" fill="#0b9864"/>
<rect x="382.35" y="458.00" width="4.6" height="4.6" fill="#0b9864"/>
<rect x="389.77" y="443.40" width="4.6" height="4.6" fill="#0b9864"/>
<rect x="397.20" y="435.20" width="4.6" height="4.6" fill="#0b9864"/>
<rect x="404.62" y="427.50" width="4.6" height="4.6" fill="#0b9864"/>
<rect x="412.05" y="395.80" width="4.6" height="4.6" fill="#0b9864"/>
<rect x="419.47" y="424.90" width="4.6" height="4.6" fill="#0b9864"/>
<rect x="426.90" y="423.00" width="4.6" height="4.6" fill="#0b9864"/>
<rect x="434.32" y="459.80" width="4.6" height="4.6" fill="#0b9864"/>
<rect x="441.75" y="437.70" width="4.6" height="4.6" fill="#0b9864"/>
<rect x="449.17" y="429.20" width="4.6" height="4.6" fill="#0b9864"/>
<rect x="456.60" y="431.20" width="4.6" height="4.6" fill="#0b9864"/>
<rect x="464.02" y="422.30" width="4.6" height="4.6" fill="#0b9864"/>
<rect x="471.45" y="433.40" width="4.6" height="4.6" fill="#0b9864"/>
<rect x="478.87" y="414.50" width="4.6" height="4.6" fill="#0b9864"/>
<rect x="486.30" y="422.70" width="4.6" height="4.6" fill="#0b9864"/>
<rect x="493.72" y="402.20" width="4.6" height="4.6" fill="#0b9864"/>
<rect x="501.15" y="404.40" width="4.6" height="4.6" fill="#0b9864"/>
<line x1="184.18" y1="532.5" x2="184.18" y2="324.5" stroke="#f2383c" stroke-width="1.2" stroke-dasharray="5.5 5.3" stroke-dashoffset="0.2"/>
<line x1="258.43" y1="532.5" x2="258.43" y2="324.5" stroke="#f2383c" stroke-width="1.2" stroke-dasharray="5.5 5.3" stroke-dashoffset="0.2"/>
<line x1="340.10" y1="532.5" x2="340.10" y2="324.5" stroke="#f2383c" stroke-width="1.2" stroke-dasharray="5.5 5.3" stroke-dashoffset="0.2"/>
<line x1="377.22" y1="532.5" x2="377.22" y2="324.5" stroke="#f2383c" stroke-width="1.2" stroke-dasharray="5.5 5.3" stroke-dashoffset="0.2"/>
<line x1="444.05" y1="532.5" x2="444.05" y2="324.5" stroke="#f2383c" stroke-width="1.2" stroke-dasharray="5.5 5.3" stroke-dashoffset="0.2"/>
<rect x="50.5" y="324.5" width="461" height="208.0" fill="none" stroke="#676161" stroke-width="1"/>
<line x1="47.8" y1="532.30" x2="50.5" y2="532.30" stroke="#676161" stroke-width="1"/>
<text x="45.00" y="535.60" text-anchor="end" font-size="9.8" letter-spacing="0.2">0</text>
<line x1="47.8" y1="511.50" x2="50.5" y2="511.50" stroke="#676161" stroke-width="1"/>
<text x="45.00" y="514.80" text-anchor="end" font-size="9.8" letter-spacing="0.2">2</text>
<line x1="47.8" y1="490.70" x2="50.5" y2="490.70" stroke="#676161" stroke-width="1"/>
<text x="45.00" y="494.00" text-anchor="end" font-size="9.8" letter-spacing="0.2">4</text>
<line x1="47.8" y1="469.90" x2="50.5" y2="469.90" stroke="#676161" stroke-width="1"/>
<text x="45.00" y="473.20" text-anchor="end" font-size="9.8" letter-spacing="0.2">6</text>
<line x1="47.8" y1="449.10" x2="50.5" y2="449.10" stroke="#676161" stroke-width="1"/>
<text x="45.00" y="452.40" text-anchor="end" font-size="9.8" letter-spacing="0.2">8</text>
<line x1="47.8" y1="428.30" x2="50.5" y2="428.30" stroke="#676161" stroke-width="1"/>
<text x="45.00" y="431.60" text-anchor="end" font-size="9.8" letter-spacing="0.2">10</text>
<line x1="47.8" y1="407.50" x2="50.5" y2="407.50" stroke="#676161" stroke-width="1"/>
<text x="45.00" y="410.80" text-anchor="end" font-size="9.8" letter-spacing="0.2">12</text>
<line x1="47.8" y1="386.70" x2="50.5" y2="386.70" stroke="#676161" stroke-width="1"/>
<text x="45.00" y="390.00" text-anchor="end" font-size="9.8" letter-spacing="0.2">14</text>
<line x1="47.8" y1="365.90" x2="50.5" y2="365.90" stroke="#676161" stroke-width="1"/>
<text x="45.00" y="369.20" text-anchor="end" font-size="9.8" letter-spacing="0.2">16</text>
<line x1="47.8" y1="345.10" x2="50.5" y2="345.10" stroke="#676161" stroke-width="1"/>
<text x="45.00" y="348.40" text-anchor="end" font-size="9.8" letter-spacing="0.2">18</text>
<line x1="47.8" y1="324.30" x2="50.5" y2="324.30" stroke="#676161" stroke-width="1"/>
<text x="45.00" y="327.60" text-anchor="end" font-size="9.8" letter-spacing="0.2">20</text>
<line x1="511.5" y1="524.14" x2="514.2" y2="524.14" stroke="#676161" stroke-width="1"/>
<text x="516.30" y="527.44" text-anchor="start" font-size="9.8" letter-spacing="0.2">−30</text>
<line x1="511.5" y1="508.76" x2="514.2" y2="508.76" stroke="#676161" stroke-width="1"/>
<text x="516.30" y="512.06" text-anchor="start" font-size="9.8" letter-spacing="0.2">−20</text>
<line x1="511.5" y1="493.38" x2="514.2" y2="493.38" stroke="#676161" stroke-width="1"/>
<text x="516.30" y="496.68" text-anchor="start" font-size="9.8" letter-spacing="0.2">−10</text>
<line x1="511.5" y1="478.00" x2="514.2" y2="478.00" stroke="#676161" stroke-width="1"/>
<text x="516.30" y="481.30" text-anchor="start" font-size="9.8" letter-spacing="0.2">0</text>
<line x1="511.5" y1="462.62" x2="514.2" y2="462.62" stroke="#676161" stroke-width="1"/>
<text x="516.30" y="465.92" text-anchor="start" font-size="9.8" letter-spacing="0.2">10</text>
<line x1="511.5" y1="447.24" x2="514.2" y2="447.24" stroke="#676161" stroke-width="1"/>
<text x="516.30" y="450.54" text-anchor="start" font-size="9.8" letter-spacing="0.2">20</text>
<line x1="511.5" y1="431.86" x2="514.2" y2="431.86" stroke="#676161" stroke-width="1"/>
<text x="516.30" y="435.16" text-anchor="start" font-size="9.8" letter-spacing="0.2">30</text>
<line x1="511.5" y1="416.48" x2="514.2" y2="416.48" stroke="#676161" stroke-width="1"/>
<text x="516.30" y="419.78" text-anchor="start" font-size="9.8" letter-spacing="0.2">40</text>
<line x1="511.5" y1="401.10" x2="514.2" y2="401.10" stroke="#676161" stroke-width="1"/>
<text x="516.30" y="404.40" text-anchor="start" font-size="9.8" letter-spacing="0.2">50</text>
<line x1="511.5" y1="385.72" x2="514.2" y2="385.72" stroke="#676161" stroke-width="1"/>
<text x="516.30" y="389.02" text-anchor="start" font-size="9.8" letter-spacing="0.2">60</text>
<line x1="511.5" y1="370.34" x2="514.2" y2="370.34" stroke="#676161" stroke-width="1"/>
<text x="516.30" y="373.64" text-anchor="start" font-size="9.8" letter-spacing="0.2">70</text>
<line x1="511.5" y1="354.96" x2="514.2" y2="354.96" stroke="#676161" stroke-width="1"/>
<text x="516.30" y="358.26" text-anchor="start" font-size="9.8" letter-spacing="0.2">80</text>
<line x1="511.5" y1="339.58" x2="514.2" y2="339.58" stroke="#676161" stroke-width="1"/>
<text x="516.30" y="342.88" text-anchor="start" font-size="9.8" letter-spacing="0.2">90</text>
<line x1="511.5" y1="324.20" x2="514.2" y2="324.20" stroke="#676161" stroke-width="1"/>
<text x="516.30" y="327.50" text-anchor="start" font-size="9.8" letter-spacing="0.2">100</text>
<line x1="57.95" y1="532.5" x2="57.95" y2="535.3" stroke="#676161" stroke-width="1"/>
<text x="57.95" y="545.20" text-anchor="middle" font-size="9.8" letter-spacing="-0.1">0</text>
<line x1="72.80" y1="532.5" x2="72.80" y2="535.3" stroke="#676161" stroke-width="1"/>
<text x="72.80" y="545.20" text-anchor="middle" font-size="9.8" letter-spacing="-0.1">2</text>
<line x1="87.65" y1="532.5" x2="87.65" y2="535.3" stroke="#676161" stroke-width="1"/>
<text x="87.65" y="545.20" text-anchor="middle" font-size="9.8" letter-spacing="-0.1">4</text>
<line x1="102.50" y1="532.5" x2="102.50" y2="535.3" stroke="#676161" stroke-width="1"/>
<text x="102.50" y="545.20" text-anchor="middle" font-size="9.8" letter-spacing="-0.1">6</text>
<line x1="117.35" y1="532.5" x2="117.35" y2="535.3" stroke="#676161" stroke-width="1"/>
<text x="117.35" y="545.20" text-anchor="middle" font-size="9.8" letter-spacing="-0.1">8</text>
<line x1="132.20" y1="532.5" x2="132.20" y2="535.3" stroke="#676161" stroke-width="1"/>
<text x="132.20" y="545.20" text-anchor="middle" font-size="9.8" letter-spacing="-0.1">10</text>
<line x1="147.05" y1="532.5" x2="147.05" y2="535.3" stroke="#676161" stroke-width="1"/>
<text x="147.05" y="545.20" text-anchor="middle" font-size="9.8" letter-spacing="-0.1">12</text>
<line x1="161.90" y1="532.5" x2="161.90" y2="535.3" stroke="#676161" stroke-width="1"/>
<text x="161.90" y="545.20" text-anchor="middle" font-size="9.8" letter-spacing="-0.1">14</text>
<line x1="176.75" y1="532.5" x2="176.75" y2="535.3" stroke="#676161" stroke-width="1"/>
<text x="176.75" y="545.20" text-anchor="middle" font-size="9.8" letter-spacing="-0.1">16</text>
<line x1="191.60" y1="532.5" x2="191.60" y2="535.3" stroke="#676161" stroke-width="1"/>
<text x="191.60" y="545.20" text-anchor="middle" font-size="9.8" letter-spacing="-0.1">18</text>
<line x1="206.45" y1="532.5" x2="206.45" y2="535.3" stroke="#676161" stroke-width="1"/>
<text x="206.45" y="545.20" text-anchor="middle" font-size="9.8" letter-spacing="-0.1">20</text>
<line x1="221.30" y1="532.5" x2="221.30" y2="535.3" stroke="#676161" stroke-width="1"/>
<text x="221.30" y="545.20" text-anchor="middle" font-size="9.8" letter-spacing="-0.1">22</text>
<line x1="236.15" y1="532.5" x2="236.15" y2="535.3" stroke="#676161" stroke-width="1"/>
<text x="236.15" y="545.20" text-anchor="middle" font-size="9.8" letter-spacing="-0.1">24</text>
<line x1="251.00" y1="532.5" x2="251.00" y2="535.3" stroke="#676161" stroke-width="1"/>
<text x="251.00" y="545.20" text-anchor="middle" font-size="9.8" letter-spacing="-0.1">26</text>
<line x1="265.85" y1="532.5" x2="265.85" y2="535.3" stroke="#676161" stroke-width="1"/>
<text x="265.85" y="545.20" text-anchor="middle" font-size="9.8" letter-spacing="-0.1">28</text>
<line x1="280.70" y1="532.5" x2="280.70" y2="535.3" stroke="#676161" stroke-width="1"/>
<text x="280.70" y="545.20" text-anchor="middle" font-size="9.8" letter-spacing="-0.1">30</text>
<line x1="295.55" y1="532.5" x2="295.55" y2="535.3" stroke="#676161" stroke-width="1"/>
<text x="295.55" y="545.20" text-anchor="middle" font-size="9.8" letter-spacing="-0.1">32</text>
<line x1="310.40" y1="532.5" x2="310.40" y2="535.3" stroke="#676161" stroke-width="1"/>
<text x="310.40" y="545.20" text-anchor="middle" font-size="9.8" letter-spacing="-0.1">34</text>
<line x1="325.25" y1="532.5" x2="325.25" y2="535.3" stroke="#676161" stroke-width="1"/>
<text x="325.25" y="545.20" text-anchor="middle" font-size="9.8" letter-spacing="-0.1">36</text>
<line x1="340.10" y1="532.5" x2="340.10" y2="535.3" stroke="#676161" stroke-width="1"/>
<text x="340.10" y="545.20" text-anchor="middle" font-size="9.8" letter-spacing="-0.1">38</text>
<line x1="354.95" y1="532.5" x2="354.95" y2="535.3" stroke="#676161" stroke-width="1"/>
<text x="354.95" y="545.20" text-anchor="middle" font-size="9.8" letter-spacing="-0.1">40</text>
<line x1="369.80" y1="532.5" x2="369.80" y2="535.3" stroke="#676161" stroke-width="1"/>
<text x="369.80" y="545.20" text-anchor="middle" font-size="9.8" letter-spacing="-0.1">42</text>
<line x1="384.65" y1="532.5" x2="384.65" y2="535.3" stroke="#676161" stroke-width="1"/>
<text x="384.65" y="545.20" text-anchor="middle" font-size="9.8" letter-spacing="-0.1">44</text>
<line x1="399.50" y1="532.5" x2="399.50" y2="535.3" stroke="#676161" stroke-width="1"/>
<text x="399.50" y="545.20" text-anchor="middle" font-size="9.8" letter-spacing="-0.1">46</text>
<line x1="414.35" y1="532.5" x2="414.35" y2="535.3" stroke="#676161" stroke-width="1"/>
<text x="414.35" y="545.20" text-anchor="middle" font-size="9.8" letter-spacing="-0.1">48</text>
<line x1="429.20" y1="532.5" x2="429.20" y2="535.3" stroke="#676161" stroke-width="1"/>
<text x="429.20" y="545.20" text-anchor="middle" font-size="9.8" letter-spacing="-0.1">50</text>
<line x1="444.05" y1="532.5" x2="444.05" y2="535.3" stroke="#676161" stroke-width="1"/>
<text x="444.05" y="545.20" text-anchor="middle" font-size="9.8" letter-spacing="-0.1">52</text>
<line x1="458.90" y1="532.5" x2="458.90" y2="535.3" stroke="#676161" stroke-width="1"/>
<text x="458.90" y="545.20" text-anchor="middle" font-size="9.8" letter-spacing="-0.1">54</text>
<line x1="473.75" y1="532.5" x2="473.75" y2="535.3" stroke="#676161" stroke-width="1"/>
<text x="473.75" y="545.20" text-anchor="middle" font-size="9.8" letter-spacing="-0.1">56</text>
<line x1="488.60" y1="532.5" x2="488.60" y2="535.3" stroke="#676161" stroke-width="1"/>
<text x="488.60" y="545.20" text-anchor="middle" font-size="9.8" letter-spacing="-0.1">58</text>
<line x1="503.45" y1="532.5" x2="503.45" y2="535.3" stroke="#676161" stroke-width="1"/>
<text x="503.45" y="545.20" text-anchor="middle" font-size="9.8" letter-spacing="-0.1">60</text>
<text x="281.00" y="556.00" text-anchor="middle" font-size="9.8" textLength="31" lengthAdjust="spacingAndGlyphs">Time (d)</text>
<text transform="translate(27.4,427.9) rotate(-90)" text-anchor="middle" font-size="9.8" textLength="57.5" lengthAdjust="spacingAndGlyphs">NH<tspan font-size="6.5" dy="1.5">4</tspan><tspan font-size="6.5" dy="-4.5">+</tspan><tspan dy="3">-N</tspan> (mg/L)</text>
<text transform="translate(544.0,428.1) rotate(-90)" text-anchor="middle" font-size="9.8" textLength="121" lengthAdjust="spacingAndGlyphs">NH<tspan font-size="6.5" dy="1.5">4</tspan><tspan font-size="6.5" dy="-4.5">+</tspan><tspan dy="3">-N</tspan> removal efficiency (%)</text>
<line x1="4.6" y1="571.5" x2="18.6" y2="571.5" stroke="#1f5cb4" stroke-width="1.3"/>
<rect x="9.6" y="569.4" width="4.2" height="4.2" fill="#1650a8"/>
<text x="21.90" y="574.80" text-anchor="start" font-size="9.8" textLength="42" lengthAdjust="spacingAndGlyphs">Inf.NH<tspan font-size="6.5" dy="1.5">4</tspan><tspan font-size="6.5" dy="-4.5">+</tspan><tspan dy="3">-N</tspan></text>
<line x1="79.4" y1="571.5" x2="94.2" y2="571.5" stroke="#10a26d" stroke-width="1.3"/>
<rect x="84.7" y="569.4" width="4.2" height="4.2" fill="#0b9864"/>
<text x="97.30" y="574.80" text-anchor="start" font-size="9.8" textLength="44" lengthAdjust="spacingAndGlyphs">Eff.NH<tspan font-size="6.5" dy="1.5">4</tspan><tspan font-size="6.5" dy="-4.5">+</tspan><tspan dy="3">-N</tspan></text>
<rect x="155.5" y="569.4" width="14.5" height="4.3" fill="#aab8dc"/>
<text x="173.00" y="574.80" text-anchor="start" font-size="9.8" textLength="106" lengthAdjust="spacingAndGlyphs">NH<tspan font-size="6.5" dy="1.5">4</tspan><tspan font-size="6.5" dy="-4.5">+</tspan><tspan dy="3">-N</tspan> removal efficiency</text>
</g></svg>
</body></html>
